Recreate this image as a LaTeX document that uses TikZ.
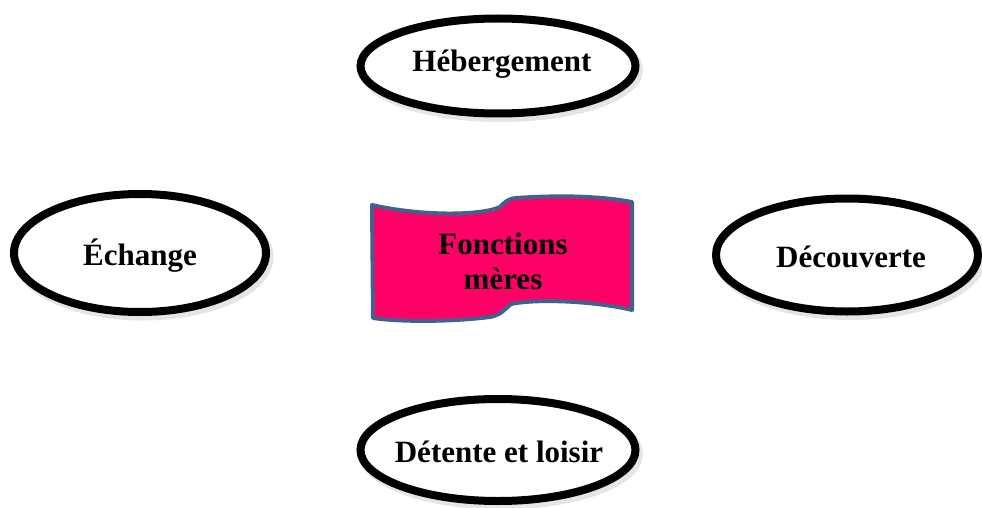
\documentclass[tikz,border=0pt]{standalone}
\usepackage{fontspec}
\setmainfont{Liberation Serif}
\usetikzlibrary{shapes.geometric}
\definecolor{wavefill}{HTML}{FF0066}
\definecolor{waveedge}{HTML}{41618E}
\begin{document}
\begin{tikzpicture}[x=1pt,y=-1pt,
  ringshadow/.style={ellipse, draw=black!25, line width=9pt, opacity=0.4, inner sep=0pt},
  ring/.style={ellipse, draw=black, line width=8pt, fill=white, inner sep=0pt},
  lbl/.style={font=\fontsize{31}{35}\selectfont\bfseries, align=center, inner sep=0pt}]
\useasboundingbox (0,0) rectangle (982,508);
% shadows
\node[ringshadow, minimum width=275pt, minimum height=95pt] (hs) at (501,70) {};
\node[ringshadow, minimum width=252pt, minimum height=118pt] (es) at (143,257) {};
\node[ringshadow, minimum width=262pt, minimum height=113pt] (ds) at (850,259) {};
\node[ringshadow, minimum width=275pt, minimum height=102pt] (ls) at (501,454) {};
% rings
\node[ring, minimum width=275pt, minimum height=95pt] (heb) at (498,66) {};
\node[ring, minimum width=252pt, minimum height=118pt] (ech) at (140,253) {};
\node[ring, minimum width=262pt, minimum height=113pt] (dec) at (847,255) {};
\node[ring, minimum width=275pt, minimum height=102pt] (det) at (498,450) {};
% labels
\node[lbl] (hebt) at (502,64) {Hébergement};
\node[lbl] (echt) at (140,256) {Échange};
\node[lbl] (dect) at (851,257) {Découverte};
\node[lbl] (dett) at (499,452) {Détente et loisir};
% wave
\draw[line width=4pt, draw=waveedge, fill=wavefill, line join=round]
  (372,205) .. controls (420,216) and (480,216) .. (500,207)
  .. controls (504,203) and (507,199) .. (516,198)
  .. controls (560,195) and (600,196) .. (632,202)
  -- (632,310)
  .. controls (600,302) and (540,298) .. (511,304)
  .. controls (505,309) and (501,315) .. (490,317)
  .. controls (450,322) and (400,322) .. (373,318) -- cycle;
\node[lbl] (fm) at (503,261) {Fonctions\\mères};
\end{tikzpicture}
\end{document}
